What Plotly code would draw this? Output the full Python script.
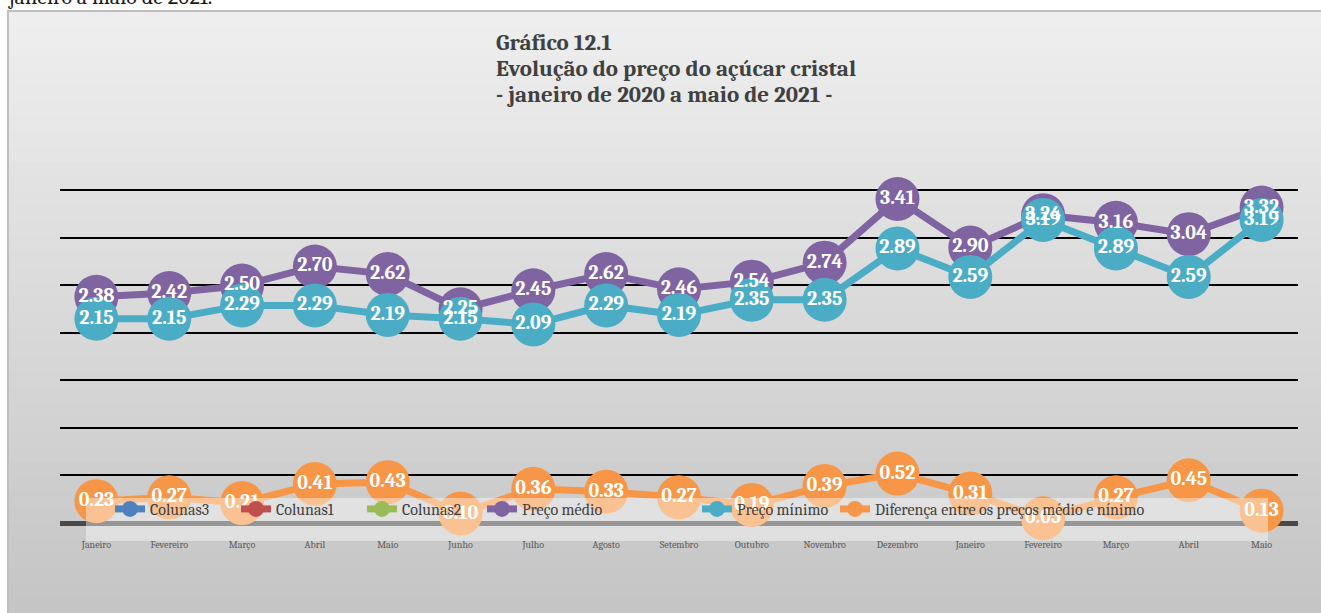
import plotly.graph_objects as go

W, H = 1321, 613

periodos = ["jan/20", "fev/20", "mar/20", "abr/20", "mai/20", "jun/20", "jul/20", "ago/20",
            "set/20", "out/20", "nov/20", "dez/20", "jan/21", "fev/21", "mar/21", "abr/21", "mai/21"]
meses = ["Janeiro", "Fevereiro", "Março", "Abril", "Maio", "Junho", "Julho", "Agosto",
         "Setembro", "Outubro", "Novembro", "Dezembro", "Janeiro", "Fevereiro", "Março", "Abril", "Maio"]
preco_medio = [2.38, 2.42, 2.50, 2.70, 2.62, 2.25, 2.45, 2.62, 2.46, 2.54, 2.74, 3.41, 2.90, 3.24, 3.16, 3.04, 3.32]
preco_minimo = [2.15, 2.15, 2.29, 2.29, 2.19, 2.15, 2.09, 2.29, 2.19, 2.35, 2.35, 2.89, 2.59, 3.19, 2.89, 2.59, 3.19]
diferenca = [0.23, 0.27, 0.21, 0.41, 0.43, 0.10, 0.36, 0.33, 0.27, 0.19, 0.39, 0.52, 0.31, 0.05, 0.27, 0.45, 0.13]
titulo = ["Gráfico 12.1", "Evolução do preço do açúcar cristal", "- janeiro de 2020 a maio de 2021 -"]

SERIF = "Cambria, 'Liberation Serif', serif"
cores = {"Colunas3": "#4f81bd", "Colunas1": "#c0504d", "Colunas2": "#9bbb59",
         "Preço médio": "#8064a2", "Preço mínimo": "#4bacc6",
         "Diferença entre os preços médio e nínimo": "#f79646"}


def px_x(p):
    return p / W


def px_y(p):
    return 1 - p / H


fig = go.Figure()

# series vazias, so aparecem na legenda
for nome in ["Colunas3", "Colunas1", "Colunas2"]:
    fig.add_trace(go.Scatter(x=[None], y=[None], name=nome, mode="lines+markers",
                             line=dict(color=cores[nome], width=7),
                             marker=dict(color=cores[nome], size=44), legend="legend"))

series = [("Preço médio", preco_medio, "legend2"),
          ("Preço mínimo", preco_minimo, "legend3"),
          ("Diferença entre os preços médio e nínimo", diferenca, "legend4")]
for nome, valores, leg in series:
    fig.add_trace(go.Scatter(x=periodos, y=valores, name=nome, mode="lines+markers",
                             line=dict(color=cores[nome], width=7),
                             marker=dict(color=cores[nome], size=44),
                             cliponaxis=False, legend=leg))

# rotulos por cima de todos os marcadores, como no Excel
for nome, valores, leg in series:
    fig.add_trace(go.Scatter(x=periodos, y=valores, mode="text", showlegend=False,
                             text=[f"{v:.2f}" for v in valores], textposition="middle center",
                             textfont=dict(family=SERIF, size=20, color="white", weight="bold"),
                             cliponaxis=False, hoverinfo="skip"))

# fundo em degradê (faixas horizontais)
shapes = []
n = 40
top, bottom = 11, H
for i in range(n):
    t = i / (n - 1)
    c = round(238 - t * (238 - 197))
    y0 = top + (bottom - top) * i / n
    y1 = top + (bottom - top) * (i + 1) / n + 1
    shapes.append(dict(type="rect", xref="paper", yref="paper", layer="below",
                       x0=px_x(8), x1=1, y0=px_y(y1), y1=px_y(y0),
                       line=dict(width=0), fillcolor=f"rgb({c},{c},{c})"))
shapes.append(dict(type="rect", xref="paper", yref="paper", layer="below",
                   x0=px_x(8), x1=1.01, y0=-0.01, y1=px_y(11),
                   line=dict(color="#bfbfbf", width=2), fillcolor="rgba(0,0,0,0)"))
# caixa semitransparente da legenda
shapes.append(dict(type="rect", xref="paper", yref="paper", layer="above",
                   x0=px_x(86), x1=px_x(1268), y0=px_y(541), y1=px_y(498),
                   line=dict(width=0), fillcolor="rgba(255,255,255,0.42)"))

leg_base = dict(orientation="h", y=px_y(509), xanchor="left", yanchor="middle",
                bgcolor="rgba(0,0,0,0)", font=dict(size=16, color="#404040"), traceorder="normal")

annotations = [
    dict(text=f"<b>{linha}</b>", xref="paper", yref="paper", x=px_x(494), y=px_y(42 + 26 * i),
         xanchor="left", yanchor="middle", showarrow=False,
         font=dict(family=SERIF, size=23, color="#404040"))
    for i, linha in enumerate(titulo)
]
annotations.append(dict(text="janeiro a maio de 2021.", xref="paper", yref="paper", x=px_x(6),
                        y=px_y(12), xanchor="left", yanchor="bottom", showarrow=False,
                        font=dict(family=SERIF, size=22, color="#1a1a1a")))

fig.update_layout(
    width=W, height=H,
    margin=dict(l=0, r=0, t=0, b=0),
    paper_bgcolor="white", plot_bgcolor="rgba(0,0,0,0)",
    font=dict(family=SERIF, color="#404040"),
    shapes=shapes,
    legend=dict(leg_base, x=px_x(110), entrywidth=81, entrywidthmode="pixels"),
    legend2=dict(leg_base, x=px_x(482)),
    legend3=dict(leg_base, x=px_x(697)),
    legend4=dict(leg_base, x=px_x(835)),
    annotations=annotations,
)

fig.update_xaxes(domain=[px_x(60), px_x(1298)], type="category", categoryorder="array",
                 categoryarray=periodos, tickmode="array", tickvals=periodos, ticktext=meses,
                 tickfont=dict(family=SERIF, size=10, color="#595959"), ticklabelstandoff=14,
                 showgrid=False, showline=False, ticks="", range=[-0.5, len(periodos) - 0.5])
fig.update_yaxes(domain=[px_y(523), px_y(142)], range=[0, 4.01], tickmode="array",
                 tickvals=[0.5, 1, 1.5, 2, 2.5, 3, 3.5, 4], showticklabels=False,
                 showgrid=True, gridcolor="black", gridwidth=2,
                 zeroline=True, zerolinecolor="#4a4a4a", zerolinewidth=5, ticks="")

fig.write_html("out.html", config={"displayModeBar": False},
               post_script="document.body.style.margin='0px';")
